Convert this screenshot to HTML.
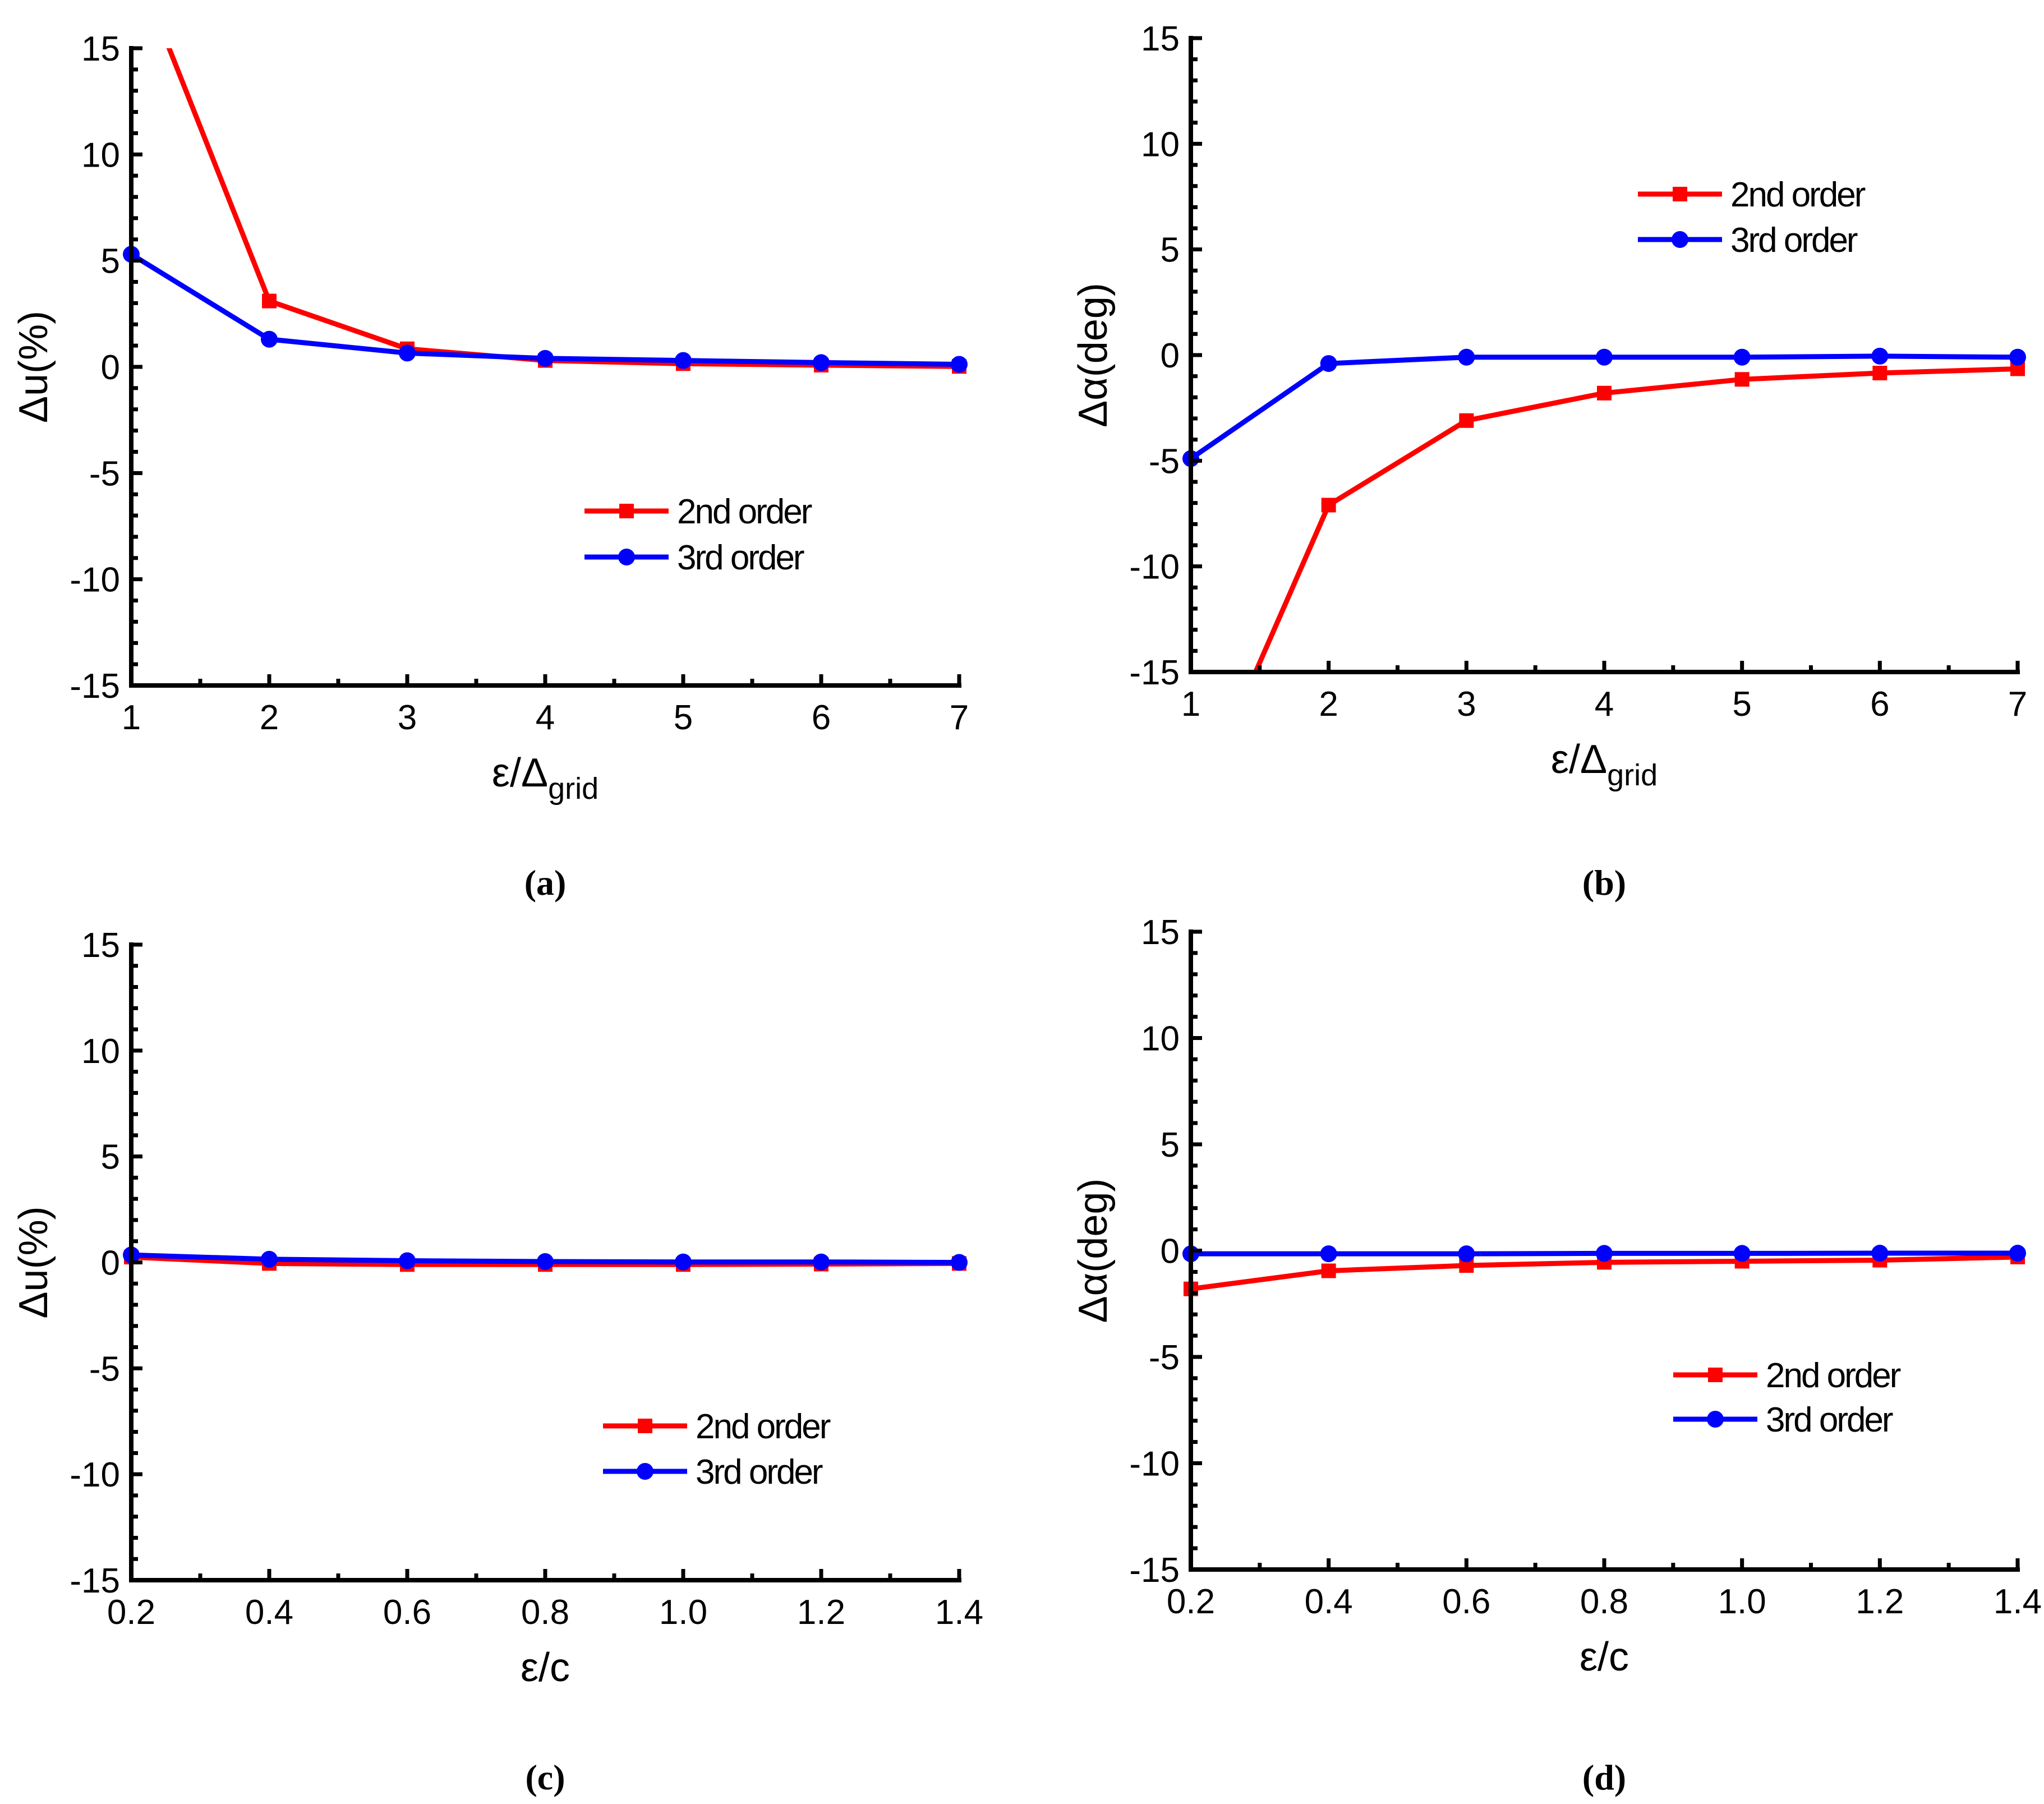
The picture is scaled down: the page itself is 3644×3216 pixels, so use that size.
<!DOCTYPE html>
<html><head><meta charset="utf-8"><style>
html,body{margin:0;padding:0;background:#fff;}
svg text{font-family:"Liberation Sans",sans-serif;}
</style></head><body>
<svg id="c" width="3644" height="3211" viewBox="0 0 3644 3211" xmlns="http://www.w3.org/2000/svg"></svg>
<script>
const xIntA = [1,2,3,4,5,6,7];
const xDec = [0.2,0.4,0.6,0.8,1.0,1.2,1.4];
const xDecLabels = ["0.2","0.4","0.6","0.8","1.0","1.2","1.4"];
const yTicks = [-15,-10,-5,0,5,10,15];
const a2 = [19.5,3.1,0.85,0.3,0.15,0.08,0.02];
const a3 = [5.3,1.3,0.65,0.4,0.3,0.2,0.12];
const b2 = [-22,-7.1,-3.1,-1.8,-1.15,-0.85,-0.65];
const b3 = [-4.9,-0.4,-0.1,-0.1,-0.1,-0.05,-0.1];
const c2 = [0.25,-0.05,-0.1,-0.1,-0.1,-0.08,-0.05];
const c3 = [0.35,0.15,0.08,0.04,0.02,0.02,0.0];
const d2 = [-1.8,-0.95,-0.7,-0.55,-0.5,-0.45,-0.3];
const d3 = [-0.15,-0.15,-0.15,-0.13,-0.13,-0.12,-0.12];

const NS="http://www.w3.org/2000/svg";
const svg=document.getElementById('c');
function mk(tag,attrs,parent){const e=document.createElementNS(NS,tag);for(const k in attrs)e.setAttribute(k,attrs[k]);(parent||svg).appendChild(e);return e;}

function panel(p){
  const g=mk('g',{});
  
  
  const xmin=p.xs[0], xmax=p.xs[p.xs.length-1];
  const X=v=>p.x0+(v-xmin)/(xmax-xmin)*(p.x1-p.x0);
  const Y=v=>p.y0+(15-v)/30*(p.y1-p.y0);
  const cid='clip'+p.id;
  const cp=mk('clipPath',{id:cid},g);
  mk('rect',{x:p.x0-20,y:p.y0,width:p.x1-p.x0+40,height:p.y1-p.y0},cp);
  const series=[{d:p.s2,col:'#ff0000',m:'sq',n:'2nd-order'},{d:p.s3,col:'#0000ff',m:'ci',n:'3rd-order'}];
  series.forEach(s=>{
    const sg=mk('g',{'clip-path':'url(#'+cid+')'},g);
    
    
    const pts=s.d.map((v,i)=>X(p.xs[i])+','+Y(v)).join(' ');
    const pl=mk('polyline',{points:pts,fill:'none',stroke:s.col,'stroke-width':9,'stroke-linejoin':'round'},sg);
    
    
    s.d.forEach((v,i)=>{
      let m;
      if(s.m==='sq') m=mk('rect',{x:X(p.xs[i])-13,y:Y(v)-13,width:26,height:26,fill:s.col},sg);
      else m=mk('circle',{cx:X(p.xs[i]),cy:Y(v),r:15,fill:s.col},sg);
      
      
    });
  });
  const ax=mk('path',{d:`M${p.x0},${p.y0-4}V${p.y1}H${p.x1+4}`,fill:'none',stroke:'#000','stroke-width':8},g);
  
  
  for(let v=-15;v<=15;v++){
    const maj=v%5===0;
    mk('line',{x1:p.x0,x2:p.x0+(maj?20:12),y1:Y(v),y2:Y(v),stroke:'#000','stroke-width':7},g);
  }
  yTicks.forEach(v=>{
    const t=mk('text',{x:p.x0-20,y:Y(v)+22,'text-anchor':'end','font-size':62},g);
    t.textContent=String(v);
    
    
  });
  p.xs.forEach((v,i)=>{
    mk('line',{x1:X(v),x2:X(v),y1:p.y1,y2:p.y1-20,stroke:'#000','stroke-width':7},g);
    if(i<p.xs.length-1){const mx=(X(v)+X(p.xs[i+1]))/2;mk('line',{x1:mx,x2:mx,y1:p.y1,y2:p.y1-12,stroke:'#000','stroke-width':7},g);}
    const t=mk('text',{x:X(v),y:p.y1+78,'text-anchor':'middle','font-size':62},g);
    t.textContent=p.xl[i];
    
    
  });
  const yc=(p.y0+p.y1)/2;
  const yt=mk('text',{x:p.x0-150,y:yc,'text-anchor':'middle','font-size':72,transform:`rotate(-90 ${p.x0-150} ${yc})`},g);
  yt.textContent=p.ytitle;
  
  
  const xc=(p.x0+p.x1)/2;
  const xt=mk('text',{x:xc,y:p.y1+180,'text-anchor':'middle','font-size':72},g);
  
  
  if(p.sub){xt.innerHTML='ε/Δ<tspan font-size="54" dy="22">grid</tspan>';}
  else xt.textContent='ε/c';
  [[p.lg[1],'#ff0000','sq','2nd order'],[p.lg[2],'#0000ff','ci','3rd order']].forEach(([ly,col,m,lab])=>{
    const lgE=mk('g',{},g);
    
    
    mk('line',{x1:p.lg[0],x2:p.lg[0]+150,y1:ly,y2:ly,stroke:col,'stroke-width':9},lgE);
    const mx=p.lg[0]+75;
    if(m==='sq') mk('rect',{x:mx-13,y:ly-13,width:26,height:26,fill:col},lgE);
    else mk('circle',{cx:mx,cy:ly,r:15,fill:col},lgE);
    const t=mk('text',{x:p.lg[0]+165,y:ly+22,'font-size':62,'letter-spacing':-3},lgE);
    t.textContent=lab;
  });
  const cap=mk('text',{x:xc,y:p.capY,'text-anchor':'middle','font-size':64,'font-weight':'bold',style:'font-family:"Liberation Serif",serif'},g);
  cap.textContent=p.cap;
  
  
}
const xIntLabels=xIntA.map(String);
panel({id:'a',x0:234,x1:1710,y0:86,y1:1222,xs:xIntA,xl:xIntLabels,s2:a2,s3:a3,ytitle:'Δu(%)',sub:true,lg:[1042,911,993],cap:'(a)',capY:1595});
panel({id:'b',x0:2123,x1:3597,y0:68,y1:1198,xs:xIntA,xl:xIntLabels,s2:b2,s3:b3,ytitle:'Δα(deg)',sub:true,lg:[2920,346,427],cap:'(b)',capY:1595});
panel({id:'c',x0:234,x1:1710,y0:1684,y1:2817,xs:xDec,xl:xDecLabels,s2:c2,s3:c3,ytitle:'Δu(%)',sub:false,lg:[1075,2542,2623],cap:'(c)',capY:3190});
panel({id:'d',x0:2123,x1:3597,y0:1661,y1:2798,xs:xDec,xl:xDecLabels,s2:d2,s3:d3,ytitle:'Δα(deg)',sub:false,lg:[2983,2451,2530],cap:'(d)',capY:3190});
</script>
</body></html>
